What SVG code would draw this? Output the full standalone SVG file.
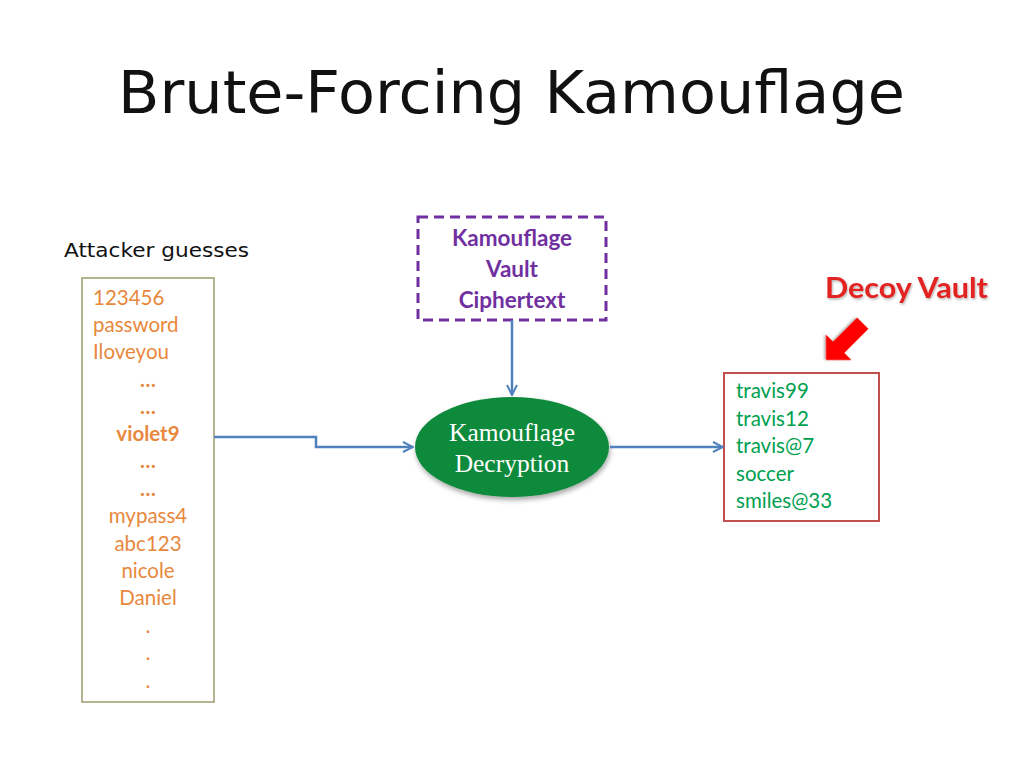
<svg xmlns="http://www.w3.org/2000/svg" width="1024" height="768" viewBox="0 0 1024 768">
<defs>
<style>
.title{font-family:"DejaVu Sans","Liberation Sans",sans-serif;fill:#111;}
.guess{font-family:Lato,"Liberation Sans",sans-serif;font-size:20.5px;fill:#E8883C;}
.mid{text-anchor:middle;}
.purple{font-family:Lato,"Liberation Sans",sans-serif;font-size:22.5px;font-weight:bold;fill:#7030A0;text-anchor:middle;}
.dec{font-family:"Liberation Serif","DejaVu Serif",serif;font-size:25.5px;fill:#fff;text-anchor:middle;}
.green{font-family:Lato,"Liberation Sans",sans-serif;font-size:20.5px;fill:#00A050;}
.conn{fill:none;stroke:#4F81BD;stroke-width:2.5;}
</style>
<marker id="ah" viewBox="0 0 12 12" refX="11" refY="6" markerWidth="12" markerHeight="12" markerUnits="userSpaceOnUse" orient="auto">
<path d="M1,1 L11,6 L1,11" fill="none" stroke="#4F81BD" stroke-width="2"/>
</marker>
<filter id="sh" x="-20%" y="-20%" width="140%" height="150%">
<feDropShadow dx="1" dy="3" stdDeviation="2.5" flood-color="#000" flood-opacity="0.35"/>
</filter>
<filter id="tsh" x="-10%" y="-20%" width="120%" height="150%">
<feDropShadow dx="1" dy="1.5" stdDeviation="1" flood-color="#000" flood-opacity="0.3"/>
</filter>
</defs>
<rect width="1024" height="768" fill="#fff"/>

<text class="title" x="118" y="113" font-size="58" textLength="787" lengthAdjust="spacingAndGlyphs">Brute-Forcing Kamouflage</text>

<g id="guesses">
<text class="title" x="64" y="257" font-size="20" textLength="185" lengthAdjust="spacingAndGlyphs">Attacker guesses</text>
<rect x="82" y="278" width="132" height="424" fill="#fff" stroke="#9C9C6C" stroke-width="1.5"/>
<text class="guess" x="93" y="305">123456</text>
<text class="guess" x="93" y="332">password</text>
<text class="guess" x="93" y="359">Iloveyou</text>
<text class="guess mid" x="148" y="387" font-weight="bold">…</text>
<text class="guess mid" x="148" y="414" font-weight="bold">…</text>
<text class="guess mid" x="148" y="441" font-weight="bold">violet9</text>
<text class="guess mid" x="148" y="468" font-weight="bold">…</text>
<text class="guess mid" x="148" y="496" font-weight="bold">…</text>
<text class="guess mid" x="148" y="523">mypass4</text>
<text class="guess mid" x="148" y="551">abc123</text>
<text class="guess mid" x="148" y="578">nicole</text>
<text class="guess mid" x="148" y="605">Daniel</text>
<text class="guess mid" x="148" y="633">.</text>
<text class="guess mid" x="148" y="660">.</text>
<text class="guess mid" x="148" y="688">.</text>
</g>

<g id="ciphertext">
<rect x="418" y="217" width="188" height="103" fill="#fff" stroke="#7030A0" stroke-width="3" stroke-dasharray="10,6"/>
<text class="purple" x="512" y="246">Kamouflage</text>
<text class="purple" x="512" y="277">Vault</text>
<text class="purple" x="512" y="308">Ciphertext</text>
</g>

<g id="decryption">
<ellipse cx="512" cy="447" rx="97" ry="50" fill="#0E8A3A" filter="url(#sh)"/>
<text class="dec" x="512" y="441">Kamouflage</text>
<text class="dec" x="512" y="472">Decryption</text>
</g>

<g id="decoy">
<rect x="724" y="373" width="155" height="148" fill="#fff" stroke="#C0504D" stroke-width="2"/>
<text class="green" x="736" y="398">travis99</text>
<text class="green" x="736" y="426">travis12</text>
<text class="green" x="736" y="453">travis@7</text>
<text class="green" x="736" y="481">soccer</text>
<text class="green" x="736" y="508">smiles@33</text>
</g>

<g id="decoy-label">
<text x="825" y="298" font-family="Lato,'Liberation Sans',sans-serif" font-size="28" font-weight="bold" fill="#E32222" filter="url(#tsh)" textLength="163" lengthAdjust="spacingAndGlyphs">Decoy Vault</text>
<polygon transform="translate(826,360) rotate(135)" points="0,0 -18,-18 -18,-8 -52,-8 -52,8 -18,8 -18,18" fill="#FF0000" filter="url(#tsh)"/>
</g>

<g id="connectors">
<path class="conn" d="M512,320 L512,395" marker-end="url(#ah)"/>
<path class="conn" d="M214,437 L316,437 L316,447 L413,447" marker-end="url(#ah)"/>
<path class="conn" d="M610,447 L723,447" marker-end="url(#ah)"/>
</g>
</svg>
